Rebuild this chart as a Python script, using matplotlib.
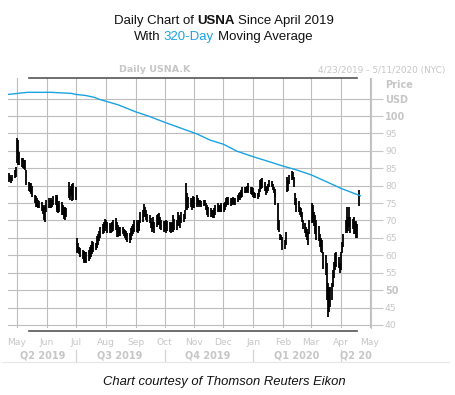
import matplotlib
matplotlib.use("Agg")
import matplotlib.pyplot as plt
import matplotlib.dates as mdates
from matplotlib import transforms
from matplotlib.lines import Line2D
import pandas as pd

# daily high / low, grouped by month (Apr 23 2019 .. Apr 20 2020)
highs = (
    [83.6, 83.2, 82.5, 83.0, 84.5, 85.4]  # Apr 19
    + [93.7, 93.0, 89.7, 88.0, 87.8, 87.5, 87.4, 84.5, 81.0, 80.5, 80.8, 80.7,
       80.0, 77.3, 77.0, 76.5, 75.9, 75.5, 75.2, 74.5, 73.9, 74.4, 76.0]  # May
    + [76.4, 76.0, 76.4, 76.0, 77.0, 77.3, 76.7, 77.3, 75.0, 75.5, 75.3, 74.5,
       74.0, 73.9, 73.5, 81.0, 79.0, 80.0, 80.5, 80.7]  # Jun
    + [79.5, 65.0, 63.5, 62.5, 62.0, 61.5, 61.0, 61.2, 61.0, 61.0, 61.5, 62.5,
       63.0, 64.0, 63.8, 63.5, 65.5, 66.0, 67.0, 68.0, 69.0, 69.5, 70.5]  # Jul
    + [70.1, 69.5, 69.2, 68.6, 69.5, 69.2, 70.1, 70.8, 69.5, 68.7, 68.2, 68.0,
       68.2, 67.5, 67.2, 67.0, 66.4, 66.4, 67.8, 68.5, 69.0, 70.1]  # Aug
    + [70.1, 69.3, 70.0, 70.1, 72.4, 73.0, 74.7, 74.0, 73.0, 72.0, 71.6, 70.7,
       69.5, 71.0, 69.5, 71.6, 72.0, 72.2, 71.0, 70.1, 69.8]  # Sep
    + [69.8, 69.3, 70.0, 69.8, 69.5, 69.3, 69.5, 71.6, 70.5, 70.1, 72.4, 71.5,
       71.0, 72.4, 72.0, 73.0, 80.7, 77.9, 76.7, 76.4, 76.0, 77.0, 76.7]  # Oct
    + [76.7, 77.3, 76.5, 75.9, 76.0, 75.5, 75.9, 76.0, 75.0, 74.4, 73.9, 73.6,
       73.0, 73.0, 73.6, 74.4, 75.0, 74.4, 74.4, 75.0, 74.4]  # Nov
    + [75.0, 75.3, 76.4, 76.7, 76.7, 76.4, 76.5, 76.7, 76.4, 76.4, 77.3, 78.0,
       78.2, 78.7, 79.6, 79.6, 79.6, 80.0, 80.7, 80.0, 79.6, 79.6]  # Dec
    + [79.3, 78.2, 77.9, 77.9, 79.0, 81.6, 82.0, 82.2, 81.0, 79.6, 80.0, 80.5,
       81.6, 81.3, 80.5, 79.6, 79.0, 77.9, 75.0, 70.1, 66.0, 65.8, 65.2]  # Jan
    + [64.4, 66.7, 82.5, 81.5, 83.0, 84.2, 84.0, 82.5, 78.0, 76.4, 75.5, 74.0,
       73.6, 72.4, 70.1, 69.3, 68.1, 67.5, 66.7, 70.1]  # Feb
    + [75.0, 74.5, 72.5, 71.5, 70.0, 68.5, 66.0, 65.0, 64.4, 61.0, 60.0, 57.8,
       52.0, 50.9, 50.9, 52.0, 55.7, 58.0, 60.6, 60.9, 59.5, 57.8]  # Mar
    + [60.9, 63.8, 66.0, 70.1, 73.9, 71.0, 74.0, 71.0, 70.5, 71.0, 69.5, 69.8,
       69.0, 78.7]  # Apr 20
)
lows = (
    [81.0, 81.5, 80.7, 81.3, 82.2, 82.5]
    + [86.5, 86.0, 86.0, 85.3, 85.0, 84.8, 84.5, 80.2, 78.5, 78.2, 78.5, 77.5,
       76.7, 75.0, 74.0, 73.8, 73.6, 73.6, 72.8, 72.0, 70.1, 69.5, 72.5]
    + [73.6, 73.5, 73.6, 74.0, 74.5, 74.5, 72.4, 73.0, 72.1, 72.5, 71.5, 71.5,
       70.5, 70.1, 71.0, 76.4, 76.0, 77.0, 75.5, 76.0]
    + [76.0, 60.8, 61.0, 60.5, 59.5, 59.0, 58.5, 57.8, 58.0, 57.8, 58.5, 59.0,
       59.5, 60.5, 61.0, 61.5, 62.0, 63.0, 64.0, 65.0, 66.0, 66.5, 67.0]
    + [67.5, 66.3, 66.4, 66.4, 67.2, 66.6, 67.0, 67.2, 65.2, 65.2, 65.5, 65.5,
       66.2, 65.5, 64.9, 64.5, 63.8, 63.5, 64.5, 65.5, 66.0, 66.8]
    + [66.7, 66.4, 67.0, 67.2, 69.3, 69.5, 71.0, 71.0, 70.1, 69.5, 69.3, 67.8,
       66.7, 67.5, 66.4, 68.1, 68.7, 68.7, 67.5, 67.2, 66.8]
    + [67.0, 66.4, 67.0, 67.0, 66.7, 66.4, 66.7, 66.7, 67.2, 67.2, 68.4, 68.7,
       67.8, 69.3, 69.5, 70.5, 73.0, 73.0, 73.6, 73.8, 73.0, 74.0, 73.6]
    + [73.6, 73.9, 74.5, 74.0, 74.5, 74.0, 74.2, 74.5, 73.0, 71.6, 71.0, 71.0,
       71.0, 70.7, 70.7, 71.6, 72.4, 72.4, 72.4, 72.4, 72.4]
    + [72.5, 73.0, 73.9, 74.4, 74.4, 74.2, 74.4, 74.8, 74.4, 74.4, 75.3, 75.9,
       75.9, 76.4, 76.7, 77.9, 77.9, 78.2, 78.7, 78.0, 77.5, 77.3]
    + [76.7, 76.4, 76.4, 76.1, 76.7, 78.2, 79.0, 79.3, 78.5, 77.3, 78.0, 78.5,
       79.6, 79.6, 78.7, 77.9, 76.7, 74.4, 67.2, 66.7, 64.4, 64.4, 61.5]
    + [61.8, 62.9, 78.2, 78.5, 80.5, 81.5, 82.0, 79.6, 74.5, 72.4, 72.5, 71.5,
       71.0, 69.5, 67.5, 66.4, 65.2, 64.5, 62.9, 66.0]
    + [69.3, 69.5, 68.5, 66.0, 64.5, 64.0, 62.5, 61.0, 60.6, 56.0, 54.3, 47.1,
       42.2, 43.7, 45.1, 47.1, 50.9, 53.5, 55.7, 56.6, 56.3, 54.9]
    + [55.7, 60.6, 62.4, 66.4, 66.4, 67.0, 68.0, 66.5, 67.5, 66.0, 66.0, 64.9,
       65.0, 74.1]
)

# 320-day moving average
ma_dates = ["2019-04-22", "2019-05-12", "2019-06-05", "2019-06-26", "2019-07-01",
            "2019-07-11", "2019-07-21", "2019-07-24", "2019-08-14", "2019-09-01",
            "2019-09-14", "2019-10-02", "2019-10-18", "2019-11-04", "2019-11-17",
            "2019-12-01", "2019-12-15", "2020-01-01", "2020-01-15", "2020-02-01",
            "2020-02-15", "2020-03-01", "2020-03-17", "2020-04-01", "2020-04-21"]
ma_values = [106.2, 106.8, 106.8, 106.5, 106.2, 105.9, 105.3, 104.9, 103.2, 101.2,
             100.0, 98.1, 96.5, 94.8, 93.1, 91.9, 89.9, 88.3, 87.1, 85.6,
             84.5, 83.1, 81.1, 79.2, 77.1]

quarters = ["Q2 2019", "Q3 2019", "Q4 2019", "Q1 2020", "Q2 20"]
quarter_centers = ["2019-05-28", "2019-08-15", "2019-11-15", "2020-02-15", "2020-04-16"]
quarter_starts = ["2019-07-01", "2019-10-01", "2020-01-01", "2020-04-01"]

GRAY = "#c6c6c6"
GRID = "#bdbdbd"
BLUE = "#1aa3e3"
W, H = 456, 395


def fy(y):
    return 1 - y / H


fig = plt.figure(figsize=(W / 100, H / 100), dpi=100)
ax = fig.add_axes([8 / W, fy(328), 363 / W, 250 / H])

dates = pd.bdate_range("2019-04-23", periods=len(highs))
ax.vlines(dates, lows, highs, color="black", lw=1.3, zorder=3)
ax.plot(pd.to_datetime(ma_dates), ma_values, color=BLUE, lw=1.0, zorder=4)

ax.set_xlim(mdates.date2num(pd.Timestamp("2019-04-21 17:00")),
            mdates.date2num(pd.Timestamp("2020-05-02")))
ax.set_ylim(39.13, 110.91)

months = pd.date_range("2019-05-01", "2020-05-01", freq="MS")
ax.set_xticks(months)
ax.tick_params(axis="x", length=0, labelbottom=False)

yt = list(range(40, 106, 5))
ax.set_yticks(yt)
ax.yaxis.tick_right()
ax.set_yticklabels(["USD" if v == 105 else str(v) for v in yt])
ax.tick_params(axis="y", length=8.5, color=GRAY, width=0.8, pad=1.5,
               labelsize=6.6, labelcolor=GRAY)
for v, lab in zip(yt, ax.get_yticklabels()):
    if v in (50, 100, 105):
        lab.set_fontweight("bold")
        lab.set_fontsize(7)

ax.grid(True, color=GRID, lw=0.8)
ax.set_axisbelow(True)
for s in ("left", "top", "bottom"):
    ax.spines[s].set_visible(False)
ax.spines["right"].set_color(GRAY)
ax.spines["right"].set_linewidth(0.8)

fig.text(385 / W, fy(85), "Price", fontsize=7, fontweight="bold", color=GRAY,
         ha="left", va="center")

# month and quarter labels under the plot
tr = transforms.blended_transform_factory(ax.transData, fig.transFigure)
for d in months:
    ax.text(d, fy(342.5), d.strftime("%b"), transform=tr, ha="center", va="center",
            fontsize=6.6, color=GRAY, clip_on=False)
for q, c in zip(quarters, quarter_centers):
    ax.text(pd.Timestamp(c), fy(355), q, transform=tr, ha="center", va="center",
            fontsize=7, fontweight="bold", color=GRAY, clip_on=False)
for d in quarter_starts:
    ax.add_line(Line2D([pd.Timestamp(d)] * 2, [fy(350), fy(362)], transform=tr,
                       color="#d4d4d4", lw=0.9, clip_on=False))

# frame lines
for y in (78, 331):
    fig.add_artist(Line2D([29 / W, 357 / W], [fy(y)] * 2, color="#555555", lw=1.2))
fig.add_artist(Line2D([2 / W, 449 / W], [fy(361.5)] * 2, color="#e6e6e6", lw=0.8))

# header row
fig.text(155 / W, fy(70), "Daily USNA.K", fontsize=6.8, fontweight="bold",
         color=GRAY, ha="center", va="center")
fig.text(445 / W, fy(70), "4/23/2019 - 5/11/2020 (NYC)", fontsize=6.4,
         color=GRAY, ha="right", va="center")


def rich_line(pieces, xc, y, size):
    r = fig.canvas.get_renderer()
    sp = 0.278 * size / 72 * 100
    arts = [fig.text(0, fy(y), s, fontsize=size, family="Liberation Sans",
                     color=c, fontweight=w, va="center", ha="left")
            for s, c, w in pieces]
    ws = [a.get_window_extent(r).width for a in arts]
    total = sum(ws) + sp * (len(ws) - 1)
    x = xc - total / 2
    for a, w in zip(arts, ws):
        a.set_x(x / W)
        x += w + sp


rich_line([("Daily Chart of", "#111111", "normal"), ("USNA", "#111111", "bold"),
           ("Since April 2019", "#111111", "normal")], 224, 21, 9.5)
rich_line([("With", "#111111", "normal"), ("320-Day", BLUE, "normal"),
           ("Moving Average", "#111111", "normal")], 223, 37, 9.5)

fig.text(224 / W, fy(382), "Chart courtesy of Thomson Reuters Eikon", fontsize=9.4,
         family="Liberation Sans", style="italic", color="#111111",
         ha="center", va="center")

fig.savefig("out.png", dpi=100)
